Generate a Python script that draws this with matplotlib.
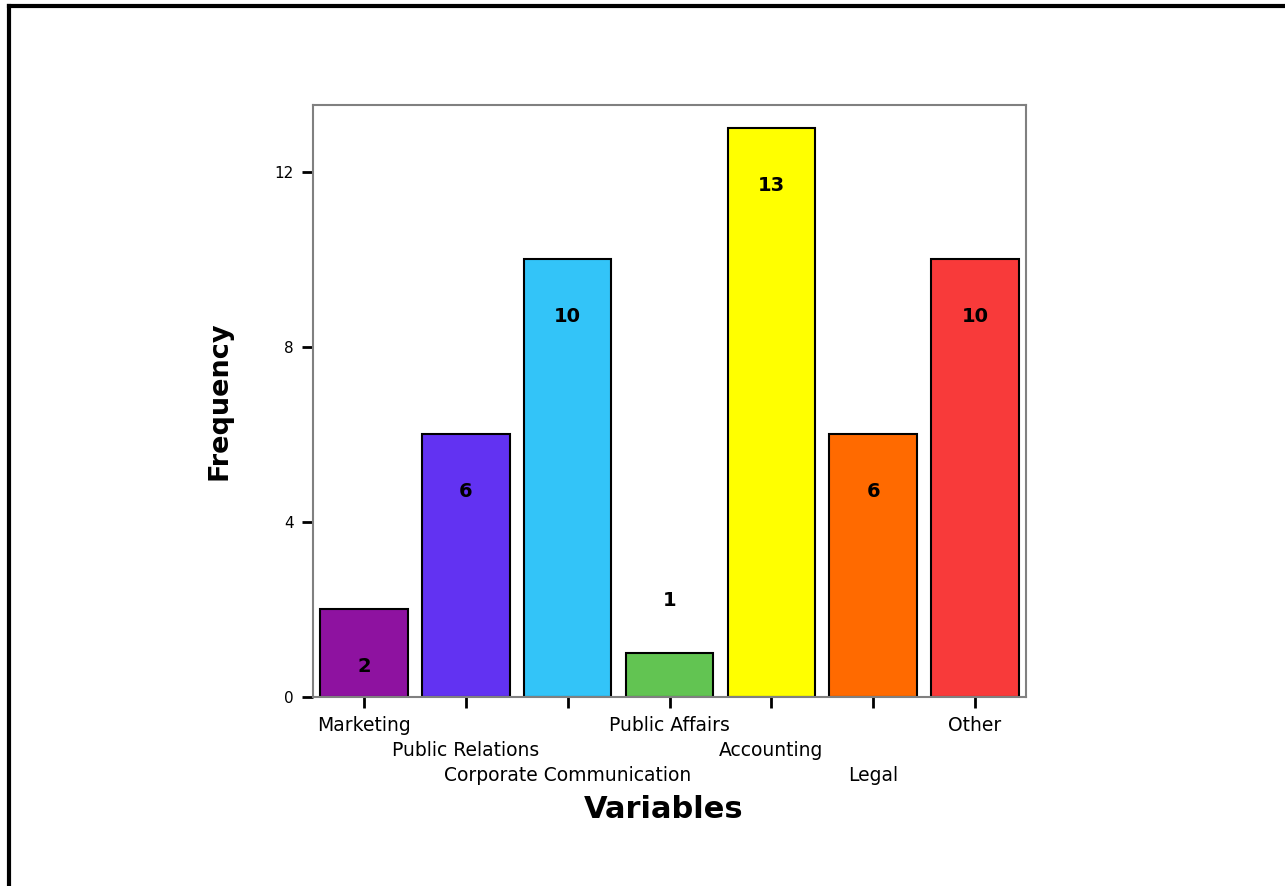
import matplotlib.pyplot as plt
from matplotlib.lines import Line2D

categories = ['Marketing', 'Public Relations', 'Corporate Communication',
              'Public Affairs', 'Accounting', 'Legal', 'Other']
counts = [2, 6, 10, 1, 13, 6, 10]
colors = ['#8E12A0', '#6232F2', '#33C4F8', '#62C452', '#FFFF00', '#FF6A00', '#F83A3A']
yticks = [0, 4, 8, 12]

plt.rcParams['font.family'] = ['DejaVu Sans']

fig = plt.figure(figsize=(12.85, 8.86), dpi=100)
ax = fig.add_axes([313 / 1285, 1 - 697 / 886, (1026 - 313) / 1285, (697 - 105) / 886])

x = list(range(len(categories)))
ax.bar(x, counts, width=0.86, color=colors, edgecolor='black', linewidth=1.5, zorder=2)

# value labels, inside near the top (or above when the bar is too short)
for xi, v in zip(x, counts):
    y = v - 1.3 if v >= 2 else v + 1.2
    ax.text(xi, y, str(v), ha='center', va='center', fontsize=14, fontweight='bold')

ax.set_xlim(-0.5, len(categories) - 0.5)
ax.set_ylim(0, 13.53)
ax.set_yticks(yticks)
ax.set_yticklabels([str(t) for t in yticks], fontsize=11)
ax.set_xticks(x)
ax.set_xticklabels([])
ax.tick_params(axis='both', direction='out', length=8, width=2, color='black', pad=6)

# staggered category labels (3 rows)
for xi, name in zip(x, categories):
    row = xi % 3
    ax.text(xi, -0.65 - row * 0.57, name, ha='center', va='center', fontsize=13.5)

for s in ax.spines.values():
    s.set_color('#808080')
    s.set_linewidth(1.5)

ax.set_ylabel('Frequency', fontsize=19.5, fontweight='bold', labelpad=30)
fig.text((585 + 742) / 2 / 1285, 1 - 810 / 886, 'Variables', ha='center', va='center',
         fontsize=22, fontweight='bold')

# outer frame (top and left edges)
fig.add_artist(Line2D([9 / 1285, 9 / 1285], [0, 1 - 6 / 886], color='black', linewidth=3,
                      transform=fig.transFigure))
fig.add_artist(Line2D([9 / 1285, 1], [1 - 6 / 886, 1 - 6 / 886], color='black', linewidth=3,
                      transform=fig.transFigure))

fig.savefig('out.png', dpi=100)
